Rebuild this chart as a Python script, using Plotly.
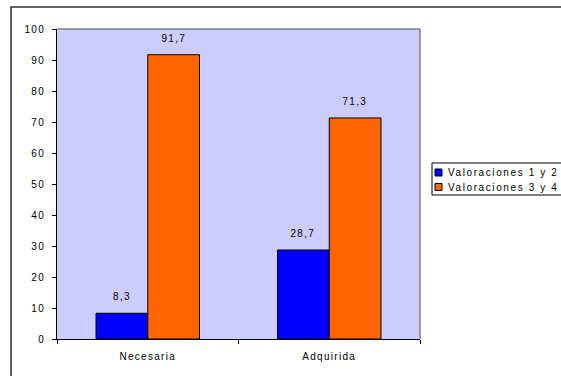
import plotly.graph_objects as go

categories = ["Necesaria", "Adquirida"]
series_names = ["Valoraciones 1 y 2", "Valoraciones 3 y 4"]
values_12 = [8.3, 28.7]
values_34 = [91.7, 71.3]
series_values = [values_12, values_34]
series_colors = ["#0000FF", "#FF6600"]
y_ticks = list(range(0, 101, 10))

FONT = "Liberation Sans, Arial, sans-serif"
FS = 10
BARGAP = 0.43
W, H = 561, 376
ML, MR, MT, MB = 57, 141, 29, 37
PW, PH = W - ML - MR, H - MT - MB


def px_x(px):
    """pixel column -> paper x"""
    return (px - ML) / PW


def px_y(py):
    """pixel row -> paper y"""
    return (H - MB - py) / PH


fig = go.Figure()
for name, vals, col in zip(series_names, series_values, series_colors):
    fig.add_trace(go.Bar(
        x=categories, y=vals, name=name, showlegend=False,
        marker=dict(color=col, line=dict(color="#000000", width=1)),
    ))

# value labels above each bar
half = (1 - BARGAP) / 2
n_value_labels = 0
for s, vals in enumerate(series_values):
    off = (s - 0.5) * half
    for i, v in enumerate(vals):
        fig.add_annotation(
            x=i + off, y=v, xref="x", yref="y",
            text=f"{v:.1f}".replace(".", ","), showarrow=False,
            yanchor="bottom", yshift=9,
            font=dict(family=FONT, size=FS, color="#000000"),
        )
        n_value_labels += 1

# grey top/right edges of the plot area
fig.add_shape(type="line", xref="paper", yref="paper", x0=0, x1=1, y0=1, y1=1,
              line=dict(color="#808080", width=1.5))
fig.add_shape(type="line", xref="paper", yref="paper", x0=1, x1=1, y0=0, y1=1,
              line=dict(color="#808080", width=1.5))
# outer chart frame
fig.add_shape(type="rect", xref="paper", yref="paper",
              x0=px_x(11), x1=3, y0=-1, y1=px_y(7),
              line=dict(color="#333333", width=1.5), fillcolor="rgba(0,0,0,0)")

# legend: framed box with small square swatches
fig.add_shape(type="rect", xref="paper", yref="paper",
              x0=px_x(432), x1=3, y0=px_y(195), y1=px_y(163),
              line=dict(color="#000000", width=1), fillcolor="#FFFFFF")
row_centers = [172.5, 187]
for name, col, rc in zip(series_names, series_colors, row_centers):
    fig.add_shape(type="rect", xref="paper", yref="paper",
                  x0=px_x(435), x1=px_x(442), y0=px_y(rc + 3.5), y1=px_y(rc - 3.5),
                  line=dict(color="#000000", width=1), fillcolor=col)
    fig.add_annotation(x=px_x(446), y=px_y(rc), xref="paper", yref="paper",
                       text=name, showarrow=False, xanchor="left", yanchor="middle",
                       font=dict(family=FONT, size=FS, color="#000000"))

fig.update_layout(
    width=W, height=H,
    margin=dict(l=ML, r=MR, t=MT, b=MB),
    paper_bgcolor="#FFFFFF", plot_bgcolor="#CCCCFF",
    barmode="group", bargap=BARGAP, bargroupgap=0,
    font=dict(family=FONT, size=FS, color="#000000"),
    showlegend=False,
)
fig.update_xaxes(
    type="category", showgrid=False, showline=True, linecolor="#000000", linewidth=1,
    ticks="outside", tickson="boundaries", ticklen=4, tickcolor="#000000",
    ticklabelstandoff=8, zeroline=False,
)
fig.update_yaxes(
    range=[0, 100], tickvals=y_ticks, showgrid=False, showline=True,
    linecolor="#000000", linewidth=1, ticks="outside", ticklen=4,
    tickcolor="#000000", zeroline=False, ticklabelstandoff=5,
)

# slightly tracked-out lettering for all chart text; the legend entries
# are re-anchored at their left edge so they grow to the right
tracking_js = """
var gd = document.getElementById('{plot_id}');
var firstLegendAnn = N_VALUE_LABELS;
function track() {
  gd.querySelectorAll('svg text').forEach(function (t) {
    if (t.dataset.tracked) return;
    var ann = t.closest('g.annotation');
    var idx = ann ? parseInt(ann.getAttribute('data-index'), 10) : -1;
    if (idx >= firstLegendAnn) {
      var w0 = t.getComputedTextLength();
      var x0 = parseFloat(t.getAttribute('x'));
      t.setAttribute('text-anchor', 'start');
      t.style.textAnchor = 'start';
      t.setAttribute('x', x0 - w0 / 2);
      t.style.letterSpacing = '1.6px';
    } else {
      t.style.letterSpacing = '1.3px';
    }
    t.dataset.tracked = '1';
  });
}
track();
gd.on('plotly_afterplot', track);
""".replace("N_VALUE_LABELS", str(n_value_labels))

fig.write_html("out.html", post_script=tracking_js)
